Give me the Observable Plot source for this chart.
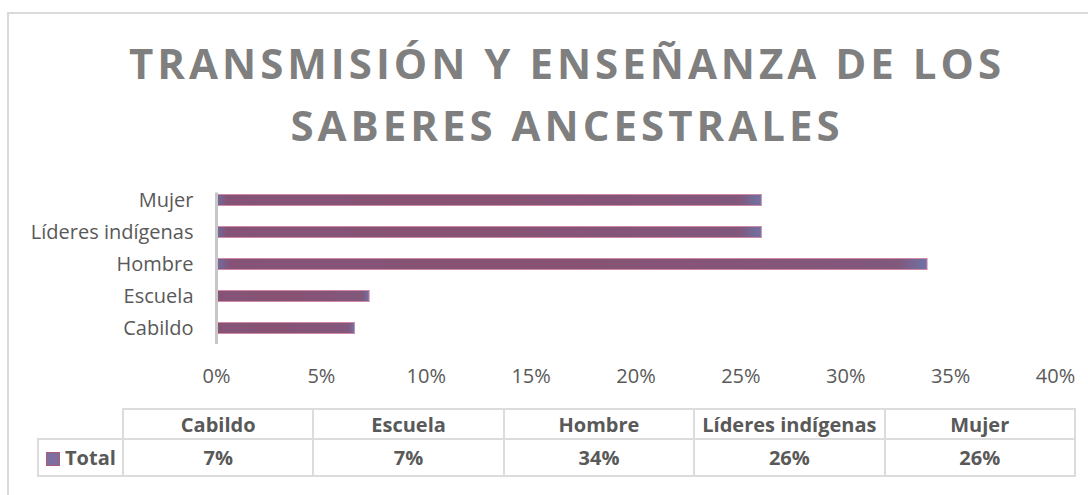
<!DOCTYPE html>
<html>
<head>
<meta charset="utf-8">
<script src="https://cdn.jsdelivr.net/npm/d3@7"></script>
<script src="https://cdn.jsdelivr.net/npm/@observablehq/plot@0.6"></script>
<style>
  html, body { margin: 0; padding: 0; background: #ffffff; }
  #wrap { position: relative; width: 1088px; height: 495px; overflow: hidden; font-family: "Open Sans", sans-serif; background: #fff; }
  #frame { position: absolute; left: 7px; top: 12px; width: 1300px; height: 700px; border: 2px solid #dadada; box-sizing: border-box; }
  #title { position: absolute; left: 0; top: 32px; width: 1134px; text-align: center; font-weight: 700; font-size: 42px; line-height: 62px; letter-spacing: 4px; color: #7f7f7f; white-space: nowrap; }
  #chart { position: absolute; left: 0; top: 165px; }
  #tbl { position: absolute; left: 37px; top: 408px; border-collapse: collapse; table-layout: fixed; width: 1037px; color: #595959; font-weight: 700; font-size: 20px; }
  #tbl td, #tbl th { border: 2px solid #dcdcdc; text-align: center; padding: 0; white-space: nowrap; font-weight: 700; }
  #tbl tr.head { height: 30px; }
  #tbl tr.row { height: 37px; }
  #tbl th.blank { border-top: none; border-left: none; }
  #tbl td.ser { text-align: left; padding-left: 7px; }
  .key { display: inline-block; width: 12px; height: 12px; background: #7e6f9e; border: 1px solid #b05a7a; margin-right: 5px; vertical-align: -1px; }
</style>
</head>
<body>
<div id="wrap">
  <div id="frame"></div>
  <div id="title"></div>
  <div id="chart"></div>
  <table id="tbl"></table>
</div>
<script>
const titleLines = ["TRANSMISIÓN Y ENSEÑANZA DE LOS", "SABERES ANCESTRALES"];
const categories = ["Cabildo", "Escuela", "Hombre", "Líderes indígenas", "Mujer"];
const values = [0.066, 0.073, 0.339, 0.26, 0.26];
const xTicks = [0, 0.05, 0.1, 0.15, 0.2, 0.25, 0.3, 0.35, 0.4];
const tableValues = ["7%", "7%", "34%", "26%", "26%"];
const seriesName = "Total";

document.getElementById("title").innerHTML = titleLines.join("<br>");

const data = categories.map((c, i) => ({category: c, value: values[i]}));

const plot = Plot.plot({
  width: 1088,
  height: 225,
  marginTop: 18.5,
  marginBottom: 46,
  marginLeft: 216,
  marginRight: 33,
  style: {fontFamily: "'Open Sans', sans-serif", fontSize: "20px", color: "#595959", background: "transparent", overflow: "visible"},
  x: {domain: [0, 0.4], ticks: xTicks, tickFormat: d3.format(".0%"), tickSize: 0, tickPadding: 24, label: null},
  y: {domain: categories.slice().reverse(), padding: 0, tickSize: 0, tickPadding: 23, label: null},
  marks: [
    Plot.barX(data, {x: "value", y: "category", fill: "url(#barGrad)", stroke: "#cf8aa3", strokeWidth: 1, insetTop: 10.5, insetBottom: 10.5}),
    Plot.ruleX([0], {stroke: "#c6c6c6", strokeWidth: 3, insetTop: 9})
  ]
});

const defs = d3.select(plot).insert("defs", ":first-child");
const grad = defs.append("linearGradient").attr("id", "barGrad").attr("x1", 0).attr("x2", 1).attr("y1", 0).attr("y2", 0);
[[0, "#6f6ea0"], [0.02, "#865376"], [0.5, "#875274"], [0.96, "#82587d"], [1, "#6d73a8"]].forEach(([o, c]) => {
  grad.append("stop").attr("offset", o).attr("stop-color", c);
});
document.getElementById("chart").appendChild(plot);

// data table
const tbl = d3.select("#tbl");
const cg = tbl.append("colgroup");
cg.append("col").style("width", "85px");
categories.forEach(() => cg.append("col").style("width", "190.4px"));
const head = tbl.append("tr").attr("class", "head");
head.append("th").attr("class", "blank");
categories.forEach(c => head.append("th").text(c));
const row = tbl.append("tr").attr("class", "row");
const s = row.append("td").attr("class", "ser");
s.append("span").attr("class", "key");
s.append("span").text(seriesName);
tableValues.forEach(v => row.append("td").text(v));
</script>
</body>
</html>
